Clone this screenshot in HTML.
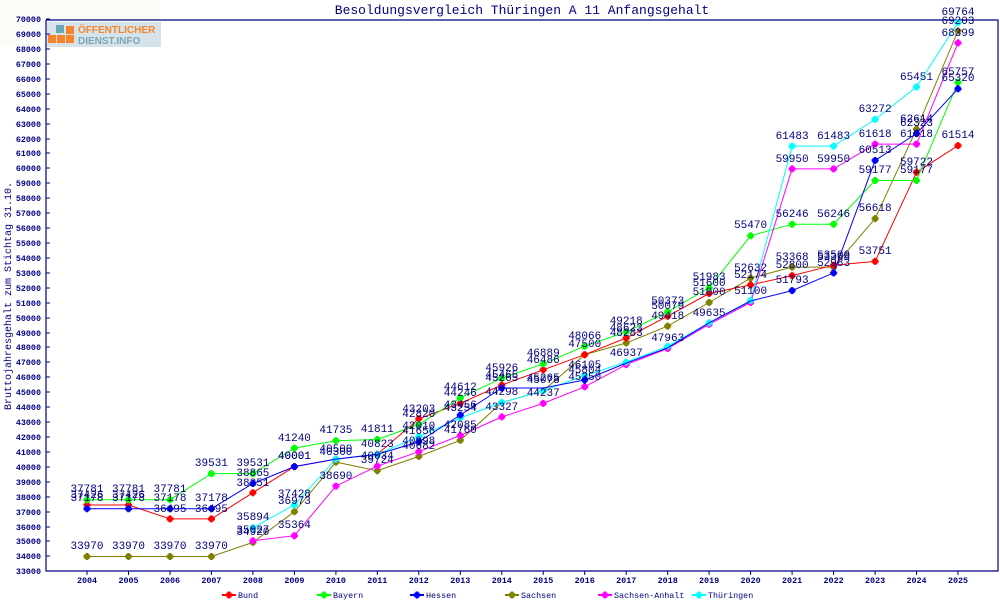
<!DOCTYPE html>
<html><head><meta charset="utf-8"><style>
html,body{margin:0;padding:0;background:#fff;}
svg{display:block;font-family:"Liberation Mono","DejaVu Sans Mono",monospace;}
.t{font-size:11px;fill:#000080;text-anchor:middle;}
.yl{font-size:8.4px;font-weight:bold;fill:#000080;text-anchor:end;}
.xl{font-size:8.4px;font-weight:bold;fill:#000080;text-anchor:middle;}
.lg{font-size:8.4px;fill:#000080;}
</style></head><body>
<svg width="1000" height="600" viewBox="0 0 1000 600" xmlns="http://www.w3.org/2000/svg">
<defs><symbol id="m" viewBox="-4 -4 8 8" overflow="visible"><path d="M-1.3,-3.5H1.3V-1.3H3.5V1.3H1.3V3.5H-1.3V1.3H-3.5V-1.3H-1.3Z"/><rect x="-2.5" y="-2.5" width="5" height="5"/></symbol></defs>
<rect x="0" y="0" width="160" height="46" fill="#fafcf8"/>
<text x="522" y="14" style="font-size:13px;fill:#000080;text-anchor:middle">Besoldungsvergleich Thüringen A 11 Anfangsgehalt</text>
<text transform="translate(11,296) rotate(-90)" style="font-size:10px;fill:#000080;text-anchor:middle">Bruttojahresgehalt zum Stichtag 31.10.</text>
<!-- logo -->
<rect x="47" y="22" width="114" height="25" fill="#d6e4ea"/>
<rect x="48" y="35" width="8" height="8" fill="#f7842a"/><rect x="57" y="35" width="8" height="8" fill="#f7842a"/><rect x="66" y="35" width="8" height="8" fill="#f7842a"/>
<rect x="66" y="26" width="8" height="8" fill="#f7842a"/><rect x="56" y="25" width="8" height="8" fill="#6aa8b8"/>
<text x="78" y="33" style="font-family:'Liberation Sans',sans-serif;font-weight:bold;font-size:10px;fill:#f7842a">ÖFFENTLICHER</text>
<text x="78" y="44" style="font-family:'Liberation Sans',sans-serif;font-weight:bold;font-size:10px;fill:#7aa6b6">DIENST.INFO</text>
<!-- axes -->
<path d="M46,20V571H998V20H46" fill="none" stroke="#000080" stroke-width="1.2"/>
<g stroke="#000080" stroke-width="1">
<path d="M46,19h4M46,34h4M46,49h4M46,64h4M46,79h4M46,94h4M46,109h4M46,124h4M46,139h4M46,153h4M46,168h4M46,183h4M46,198h4M46,213h4M46,228h4M46,243h4M46,258h4M46,273h4M46,288h4M46,303h4M46,318h4M46,333h4M46,347h4M46,362h4M46,377h4M46,392h4M46,407h4M46,422h4M46,437h4M46,452h4M46,467h4M46,482h4M46,497h4M46,512h4M46,527h4M46,541h4M46,556h4M46,571h4"/>
<path d="M87,571v4M128.5,571v4M170,571v4M211.4,571v4M252.9,571v4M294.4,571v4M335.9,571v4M377.3,571v4M418.8,571v4M460.3,571v4M501.8,571v4M543.2,571v4M584.7,571v4M626.2,571v4M667.7,571v4M709.1,571v4M750.6,571v4M792.1,571v4M833.6,571v4M875.1,571v4M916.5,571v4M958,571v4"/>
</g>
<g class="yl">
<text x="41" y="22">70000</text><text x="41" y="37">69000</text><text x="41" y="52">68000</text><text x="41" y="67">67000</text><text x="41" y="82">66000</text><text x="41" y="97">65000</text><text x="41" y="112">64000</text><text x="41" y="127">63000</text><text x="41" y="142">62000</text><text x="41" y="156">61000</text><text x="41" y="171">60000</text><text x="41" y="186">59000</text><text x="41" y="201">58000</text><text x="41" y="216">57000</text><text x="41" y="231">56000</text><text x="41" y="246">55000</text><text x="41" y="261">54000</text><text x="41" y="276">53000</text><text x="41" y="291">52000</text><text x="41" y="306">51000</text><text x="41" y="321">50000</text><text x="41" y="336">49000</text><text x="41" y="350">48000</text><text x="41" y="365">47000</text><text x="41" y="380">46000</text><text x="41" y="395">45000</text><text x="41" y="410">44000</text><text x="41" y="425">43000</text><text x="41" y="440">42000</text><text x="41" y="455">41000</text><text x="41" y="470">40000</text><text x="41" y="485">39000</text><text x="41" y="500">38000</text><text x="41" y="515">37000</text><text x="41" y="530">36000</text><text x="41" y="544">35000</text><text x="41" y="559">34000</text><text x="41" y="574">33000</text>
</g>
<g class="xl">
<text x="87" y="583">2004</text><text x="128.5" y="583">2005</text><text x="170" y="583">2006</text><text x="211.4" y="583">2007</text><text x="252.9" y="583">2008</text><text x="294.4" y="583">2009</text><text x="335.9" y="583">2010</text><text x="377.3" y="583">2011</text><text x="418.8" y="583">2012</text><text x="460.3" y="583">2013</text><text x="501.8" y="583">2014</text><text x="543.2" y="583">2015</text><text x="584.7" y="583">2016</text><text x="626.2" y="583">2017</text><text x="667.7" y="583">2018</text><text x="709.1" y="583">2019</text><text x="750.6" y="583">2020</text><text x="792.1" y="583">2021</text><text x="833.6" y="583">2022</text><text x="875.1" y="583">2023</text><text x="916.5" y="583">2024</text><text x="958" y="583">2025</text>
</g>
<!-- Sachsen olive -->
<g fill="#808000">
<polyline fill="none" stroke="#808000" points="87,556.5 128.5,556.5 170,556.5 211.4,556.5 252.9,542.4 294.4,511.7 335.9,462.1 377.3,470.7 418.8,456.4 460.3,440.3 501.8,402.5 543.2,390.8 584.7,354.7 626.2,343 667.7,326.1 709.1,302.5 750.6,278.1 792.1,267.1 833.6,267.1 875.1,218.6 916.5,129.2 958,30.9"/>
<use href="#m" x="83" y="552.5" width="8" height="8"/><use href="#m" x="124.5" y="552.5" width="8" height="8"/><use href="#m" x="166" y="552.5" width="8" height="8"/><use href="#m" x="207.4" y="552.5" width="8" height="8"/><use href="#m" x="248.9" y="538.4" width="8" height="8"/><use href="#m" x="290.4" y="507.7" width="8" height="8"/><use href="#m" x="331.9" y="458.1" width="8" height="8"/><use href="#m" x="373.3" y="466.7" width="8" height="8"/><use href="#m" x="414.8" y="452.4" width="8" height="8"/><use href="#m" x="456.3" y="436.3" width="8" height="8"/><use href="#m" x="497.8" y="398.5" width="8" height="8"/><use href="#m" x="539.2" y="386.8" width="8" height="8"/><use href="#m" x="580.7" y="350.7" width="8" height="8"/><use href="#m" x="622.2" y="339" width="8" height="8"/><use href="#m" x="663.7" y="322.1" width="8" height="8"/><use href="#m" x="705.1" y="298.5" width="8" height="8"/><use href="#m" x="746.6" y="274.1" width="8" height="8"/><use href="#m" x="788.1" y="263.1" width="8" height="8"/><use href="#m" x="829.6" y="263.1" width="8" height="8"/><use href="#m" x="871.1" y="214.6" width="8" height="8"/><use href="#m" x="912.5" y="125.2" width="8" height="8"/><use href="#m" x="954" y="26.9" width="8" height="8"/>
</g>
<!-- Bund red -->
<g fill="#ff0000">
<polyline fill="none" stroke="#ff0000" points="87,505 128.5,505 170,518.9 211.4,518.9 252.9,492.7 294.4,466.6 335.9,459.1 377.3,454.3 418.8,418.8 460.3,403.2 501.8,385 543.2,369.8 584.7,354.7 626.2,337.9 667.7,316.2 709.1,293.5 750.6,284.9 792.1,275.6 833.6,265.2 875.1,261.4 916.5,172.3 958,145.6"/>
<use href="#m" x="83" y="501" width="8" height="8"/><use href="#m" x="124.5" y="501" width="8" height="8"/><use href="#m" x="166" y="514.9" width="8" height="8"/><use href="#m" x="207.4" y="514.9" width="8" height="8"/><use href="#m" x="248.9" y="488.7" width="8" height="8"/><use href="#m" x="290.4" y="462.6" width="8" height="8"/><use href="#m" x="331.9" y="455.1" width="8" height="8"/><use href="#m" x="373.3" y="450.3" width="8" height="8"/><use href="#m" x="414.8" y="414.8" width="8" height="8"/><use href="#m" x="456.3" y="399.2" width="8" height="8"/><use href="#m" x="497.8" y="381" width="8" height="8"/><use href="#m" x="539.2" y="365.8" width="8" height="8"/><use href="#m" x="580.7" y="350.7" width="8" height="8"/><use href="#m" x="622.2" y="333.9" width="8" height="8"/><use href="#m" x="663.7" y="312.2" width="8" height="8"/><use href="#m" x="705.1" y="289.5" width="8" height="8"/><use href="#m" x="746.6" y="280.9" width="8" height="8"/><use href="#m" x="788.1" y="271.6" width="8" height="8"/><use href="#m" x="829.6" y="261.2" width="8" height="8"/><use href="#m" x="871.1" y="257.4" width="8" height="8"/><use href="#m" x="912.5" y="168.3" width="8" height="8"/><use href="#m" x="954" y="141.6" width="8" height="8"/>
</g>
<!-- Bayern green -->
<g fill="#00ff00">
<polyline fill="none" stroke="#00ff00" points="87,499.7 128.5,499.7 170,499.7 211.4,473.6 252.9,473.6 294.4,448.1 335.9,440.7 377.3,439.5 418.8,424.5 460.3,397.8 501.8,378.2 543.2,363.8 584.7,346.2 626.2,331.9 667.7,311.8 709.1,287.8 750.6,235.8 792.1,224.2 833.6,224.2 875.1,180.5 916.5,180.5 958,82.3"/>
<use href="#m" x="83" y="495.7" width="8" height="8"/><use href="#m" x="124.5" y="495.7" width="8" height="8"/><use href="#m" x="166" y="495.7" width="8" height="8"/><use href="#m" x="207.4" y="469.6" width="8" height="8"/><use href="#m" x="248.9" y="469.6" width="8" height="8"/><use href="#m" x="290.4" y="444.1" width="8" height="8"/><use href="#m" x="331.9" y="436.7" width="8" height="8"/><use href="#m" x="373.3" y="435.5" width="8" height="8"/><use href="#m" x="414.8" y="420.5" width="8" height="8"/><use href="#m" x="456.3" y="393.8" width="8" height="8"/><use href="#m" x="497.8" y="374.2" width="8" height="8"/><use href="#m" x="539.2" y="359.8" width="8" height="8"/><use href="#m" x="580.7" y="342.2" width="8" height="8"/><use href="#m" x="622.2" y="327.9" width="8" height="8"/><use href="#m" x="663.7" y="307.8" width="8" height="8"/><use href="#m" x="705.1" y="283.8" width="8" height="8"/><use href="#m" x="746.6" y="231.8" width="8" height="8"/><use href="#m" x="788.1" y="220.2" width="8" height="8"/><use href="#m" x="829.6" y="220.2" width="8" height="8"/><use href="#m" x="871.1" y="176.5" width="8" height="8"/><use href="#m" x="912.5" y="176.5" width="8" height="8"/><use href="#m" x="954" y="78.3" width="8" height="8"/>
</g>
<!-- Sachsen-Anhalt magenta -->
<g fill="#ff00ff">
<polyline fill="none" stroke="#ff00ff" points="252.9,540.8 294.4,535.7 335.9,486.1 377.3,466.1 418.8,451.7 460.3,435.5 501.8,416.9 543.2,403.4 584.7,386.8 626.2,364.6 667.7,348.5 709.1,324.3 750.6,302.5 792.1,168.9 833.6,168.9 875.1,144.1 916.5,144.1 958,42.9"/>
<use href="#m" x="248.9" y="536.8" width="8" height="8"/><use href="#m" x="290.4" y="531.7" width="8" height="8"/><use href="#m" x="331.9" y="482.1" width="8" height="8"/><use href="#m" x="373.3" y="462.1" width="8" height="8"/><use href="#m" x="414.8" y="447.7" width="8" height="8"/><use href="#m" x="456.3" y="431.5" width="8" height="8"/><use href="#m" x="497.8" y="412.9" width="8" height="8"/><use href="#m" x="539.2" y="399.4" width="8" height="8"/><use href="#m" x="580.7" y="382.8" width="8" height="8"/><use href="#m" x="622.2" y="360.6" width="8" height="8"/><use href="#m" x="663.7" y="344.5" width="8" height="8"/><use href="#m" x="705.1" y="320.3" width="8" height="8"/><use href="#m" x="746.6" y="298.5" width="8" height="8"/><use href="#m" x="788.1" y="164.9" width="8" height="8"/><use href="#m" x="829.6" y="164.9" width="8" height="8"/><use href="#m" x="871.1" y="140.1" width="8" height="8"/><use href="#m" x="912.5" y="140.1" width="8" height="8"/><use href="#m" x="954" y="38.9" width="8" height="8"/>
</g>
<!-- Thüringen cyan -->
<g fill="#00ffff">
<polyline fill="none" stroke="#00ffff" points="252.9,527.8 294.4,504.9 335.9,459.1 377.3,454.3 418.8,436.6 460.3,418 501.8,402.5 543.2,390.8 584.7,375.5 626.2,362.1 667.7,346.3 709.1,322.8 750.6,300.6 792.1,146.1 833.6,146.1 875.1,119.4 916.5,86.9 958,22.5"/>
<use href="#m" x="248.9" y="523.8" width="8" height="8"/><use href="#m" x="290.4" y="500.9" width="8" height="8"/><use href="#m" x="331.9" y="455.1" width="8" height="8"/><use href="#m" x="373.3" y="450.3" width="8" height="8"/><use href="#m" x="414.8" y="432.6" width="8" height="8"/><use href="#m" x="456.3" y="414" width="8" height="8"/><use href="#m" x="497.8" y="398.5" width="8" height="8"/><use href="#m" x="539.2" y="386.8" width="8" height="8"/><use href="#m" x="580.7" y="371.5" width="8" height="8"/><use href="#m" x="622.2" y="358.1" width="8" height="8"/><use href="#m" x="663.7" y="342.3" width="8" height="8"/><use href="#m" x="705.1" y="318.8" width="8" height="8"/><use href="#m" x="746.6" y="296.6" width="8" height="8"/><use href="#m" x="788.1" y="142.1" width="8" height="8"/><use href="#m" x="829.6" y="142.1" width="8" height="8"/><use href="#m" x="871.1" y="115.4" width="8" height="8"/><use href="#m" x="912.5" y="82.9" width="8" height="8"/><use href="#m" x="954" y="18.5" width="8" height="8"/>
</g>
<!-- Hessen blue -->
<g fill="#0000ff">
<polyline fill="none" stroke="#0000ff" points="87,508.7 128.5,508.7 170,508.7 211.4,508.7 252.9,483.5 294.4,466.6 335.9,459.1 377.3,454.3 418.8,441.9 460.3,415 501.8,388 543.2,388 584.7,380 626.2,363.1 667.7,347.8 709.1,322.8 750.6,301 792.1,290.6 833.6,272.9 875.1,160.5 916.5,133.5 958,88.8"/>
<use href="#m" x="83" y="504.7" width="8" height="8"/><use href="#m" x="124.5" y="504.7" width="8" height="8"/><use href="#m" x="166" y="504.7" width="8" height="8"/><use href="#m" x="207.4" y="504.7" width="8" height="8"/><use href="#m" x="248.9" y="479.5" width="8" height="8"/><use href="#m" x="290.4" y="462.6" width="8" height="8"/><use href="#m" x="414.8" y="437.9" width="8" height="8"/><use href="#m" x="456.3" y="411" width="8" height="8"/><use href="#m" x="497.8" y="384" width="8" height="8"/><use href="#m" x="580.7" y="376" width="8" height="8"/><use href="#m" x="788.1" y="286.6" width="8" height="8"/><use href="#m" x="829.6" y="268.9" width="8" height="8"/><use href="#m" x="871.1" y="156.5" width="8" height="8"/><use href="#m" x="912.5" y="129.5" width="8" height="8"/><use href="#m" x="954" y="84.8" width="8" height="8"/>
</g>
<!-- labels -->
<g class="t">
<text x="87" y="549">33970</text><text x="128.5" y="549">33970</text><text x="170" y="549">33970</text><text x="211.4" y="549">33970</text><text x="252.9" y="535">34920</text><text x="294.4" y="504">36973</text><text x="335.9" y="455">40300</text><text x="377.3" y="463">39724</text><text x="418.8" y="449">40682</text><text x="460.3" y="433">41760</text><text x="501.8" y="395">44298</text><text x="543.2" y="383">45078</text><text x="584.7" y="347">47500</text><text x="626.2" y="336">48283</text><text x="667.7" y="319">49418</text><text x="709.1" y="295">51000</text><text x="750.6" y="271">52632</text><text x="792.1" y="260">53368</text><text x="833.6" y="260">53368</text><text x="875.1" y="211">56618</text><text x="916.5" y="122">62614</text><text x="958" y="24">69203</text>
<text x="87" y="498">37426</text><text x="128.5" y="498">37426</text><text x="170" y="512">36495</text><text x="211.4" y="512">36495</text><text x="252.9" y="486">38251</text><text x="294.4" y="459">40001</text><text x="335.9" y="452">40500</text><text x="377.3" y="447">40823</text><text x="418.8" y="412">43203</text><text x="460.3" y="396">44246</text><text x="501.8" y="378">45465</text><text x="543.2" y="363">46486</text><text x="626.2" y="331">48623</text><text x="667.7" y="309">50079</text><text x="709.1" y="286">51600</text><text x="750.6" y="278">52174</text><text x="792.1" y="268">52800</text><text x="833.6" y="258">53500</text><text x="875.1" y="254">53751</text><text x="916.5" y="165">59722</text><text x="958" y="138">61514</text>
<text x="87" y="492">37781</text><text x="128.5" y="492">37781</text><text x="170" y="492">37781</text><text x="211.4" y="466">39531</text><text x="252.9" y="466">39531</text><text x="294.4" y="441">41240</text><text x="335.9" y="433">41735</text><text x="377.3" y="432">41811</text><text x="418.8" y="417">42820</text><text x="460.3" y="390">44612</text><text x="501.8" y="371">45926</text><text x="543.2" y="356">46889</text><text x="584.7" y="339">48066</text><text x="626.2" y="324">49218</text><text x="667.7" y="304">50373</text><text x="709.1" y="280">51983</text><text x="750.6" y="228">55470</text><text x="792.1" y="217">56246</text><text x="833.6" y="217">56246</text><text x="875.1" y="173">59177</text><text x="916.5" y="173">59177</text><text x="958" y="75">65757</text>
<text x="87" y="501">37178</text><text x="128.5" y="501">37178</text><text x="170" y="501">37178</text><text x="211.4" y="501">37178</text><text x="252.9" y="476">38865</text><text x="294.4" y="459">40001</text><text x="418.8" y="434">41656</text><text x="460.3" y="408">43456</text><text x="501.8" y="381">45265</text><text x="543.2" y="381">45265</text><text x="584.7" y="373">45804</text><text x="626.2" y="356">46937</text><text x="667.7" y="341">47963</text><text x="709.1" y="316">49635</text><text x="750.6" y="294">51100</text><text x="792.1" y="283">51793</text><text x="833.6" y="266">52983</text><text x="875.1" y="153">60513</text><text x="916.5" y="126">62323</text><text x="958" y="81">65320</text>
<text x="252.9" y="533">35027</text><text x="294.4" y="528">35364</text><text x="335.9" y="479">38690</text><text x="377.3" y="459">40034</text><text x="418.8" y="444">40998</text><text x="460.3" y="428">42085</text><text x="501.8" y="410">43327</text><text x="543.2" y="396">44237</text><text x="584.7" y="380">45350</text><text x="792.1" y="162">59950</text><text x="833.6" y="162">59950</text><text x="875.1" y="137">61618</text><text x="916.5" y="137">61618</text><text x="958" y="36">68399</text>
<text x="252.9" y="520">35894</text><text x="294.4" y="497">37428</text><text x="418.8" y="429">42010</text><text x="460.3" y="411">43254</text><text x="584.7" y="368">46105</text><text x="792.1" y="139">61483</text><text x="833.6" y="139">61483</text><text x="875.1" y="112">63272</text><text x="916.5" y="80">65451</text><text x="958" y="15">69764</text>
</g>
<!-- legend -->
<g>
<line x1="222" y1="595" x2="236" y2="595" stroke="#ff0000" stroke-width="2"/><use href="#m" x="225" y="591" width="8" height="8" fill="#ff0000"/><text class="lg" x="238" y="598">Bund</text>
<line x1="317" y1="595" x2="331" y2="595" stroke="#00ff00" stroke-width="2"/><use href="#m" x="320" y="591" width="8" height="8" fill="#00ff00"/><text class="lg" x="333" y="598">Bayern</text>
<line x1="410" y1="595" x2="424" y2="595" stroke="#0000ff" stroke-width="2"/><use href="#m" x="413" y="591" width="8" height="8" fill="#0000ff"/><text class="lg" x="426" y="598">Hessen</text>
<line x1="505" y1="595" x2="519" y2="595" stroke="#808000" stroke-width="2"/><use href="#m" x="508" y="591" width="8" height="8" fill="#808000"/><text class="lg" x="521" y="598">Sachsen</text>
<line x1="598" y1="595" x2="612" y2="595" stroke="#ff00ff" stroke-width="2"/><use href="#m" x="601" y="591" width="8" height="8" fill="#ff00ff"/><text class="lg" x="614" y="598">Sachsen-Anhalt</text>
<line x1="692" y1="595" x2="706" y2="595" stroke="#00ffff" stroke-width="2"/><use href="#m" x="695" y="591" width="8" height="8" fill="#00ffff"/><text class="lg" x="708" y="598">Thüringen</text>
</g>
</svg>
</body></html>
